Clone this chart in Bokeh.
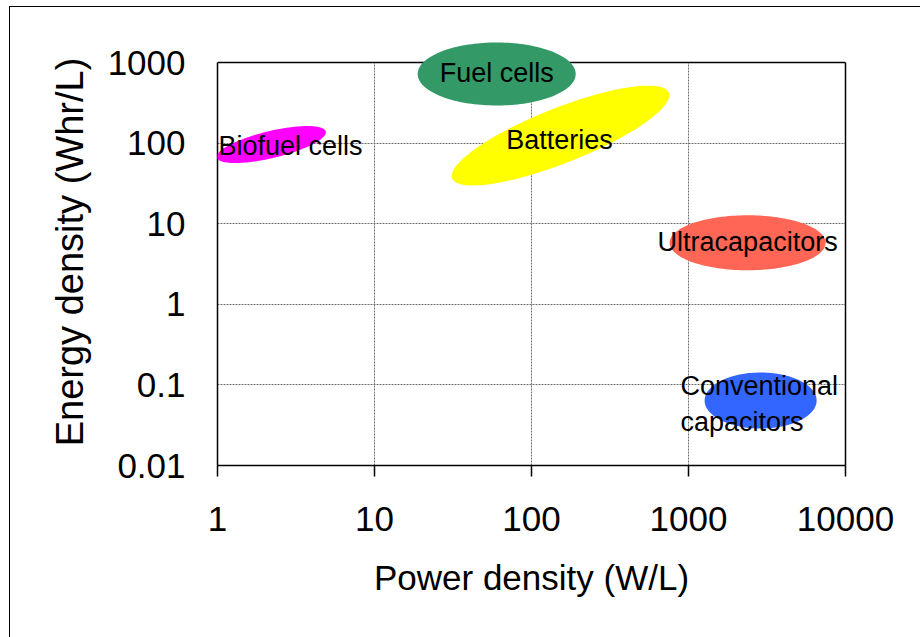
import numpy as np
from bokeh.plotting import figure
from bokeh.models import (Range1d, FixedTicker, PolyAnnotation, ColumnDataSource,
                          InlineStyleSheet, Span, LogAxis, Grid)
from bokeh.embed import file_html
from bokeh.resources import INLINE
from bokeh.core.properties import value

# ---------------- data ----------------
TECHNOLOGIES = ["Biofuel cells", "Fuel cells", "Batteries", "Ultracapacitors", "Conventional capacitors"]
POWER_CENTER = [2.2, 60, 153, 2380, 2880]        # W/L, centre of each region
ENERGY_CENTER = [96, 720, 124, 5.8, 0.064]       # Whr/L, centre of each region
COLORS = ["#FF00FF", "#339966", "#FFFF00", "#FF6655", "#3366FF"]

LABEL_TEXT = ["Biofuel cells", "Fuel cells", "Batteries", "Ultracapacitors", "Conventional\ncapacitors"]
LABEL_POWER = [2.92, 60, 151, 2380, 889]
LABEL_ENERGY = [92, 741, 109, 5.93, 0.058]
LABEL_ALIGN = ["center", "center", "center", "center", "left"]

X_TICKS = [1, 10, 100, 1000, 10000]
X_TICK_LABELS = ["1", "10", "100", "1000", "10000"]
Y_TICKS = [0.01, 0.1, 1, 10, 100, 1000]
Y_TICK_LABELS = ["0.01", "0.1", "1", "10", "100", "1000"]

# ---------------- styling / layout ----------------
ELLIPSE_W = [112, 158, 233, 156, 112]     # px, major axis
ELLIPSE_H = [27, 63, 55, 55, 56]          # px, minor axis
ELLIPSE_ANGLE = [13.4, 0, 21.6, 0, 0]     # degrees

W, H = 920, 637
BL, BR, BT, BB = 217, 75, 62, 172
EXTRA_TOP = 24                            # room above the box so the fuel-cell ellipse can overhang it
FRAME_W = W - BL - BR
FRAME_H = H - BT - BB
PX_X = FRAME_W / np.log10(X_TICKS[-1] / X_TICKS[0])
PX_Y = FRAME_H / np.log10(Y_TICKS[-1] / Y_TICKS[0])
Y_END = Y_TICKS[-1] * 10 ** (EXTRA_TOP / PX_Y)
FONT = "Liberation Sans"

p = figure(width=W, height=H, x_axis_type="log", y_axis_type="log",
           x_range=Range1d(X_TICKS[0], X_TICKS[-1]),
           y_range=Range1d(Y_TICKS[0], Y_END),
           output_backend="svg", toolbar_location=None,
           min_border_left=BL, min_border_right=BR,
           min_border_top=BT - EXTRA_TOP, min_border_bottom=BB)
p.background_fill_color = "white"
p.border_fill_color = "white"
p.outline_line_color = None

for ax in (p.xaxis[0], p.yaxis[0]):
    ax.axis_line_color = "black"
    ax.axis_line_width = 1.5
    ax.major_tick_line_color = "black"
    ax.major_tick_line_width = 1.5
    ax.minor_tick_in = 0
    ax.minor_tick_out = 0
    ax.major_tick_in = 0
    ax.major_label_text_font = FONT
    ax.major_label_text_font_size = "35px"
    ax.major_label_text_color = "black"
    ax.axis_label_text_font = FONT
    ax.axis_label_text_font_style = "normal"
    ax.axis_label_text_color = "black"

p.xaxis.ticker = FixedTicker(ticks=X_TICKS, minor_ticks=[])
p.yaxis.ticker = FixedTicker(ticks=Y_TICKS, minor_ticks=[])
p.xaxis.bounds = (X_TICKS[0], X_TICKS[-1])
p.yaxis.bounds = (Y_TICKS[0], Y_TICKS[-1])
p.xaxis.major_label_overrides = dict(zip(X_TICKS, X_TICK_LABELS))
p.yaxis.major_label_overrides = dict(zip(Y_TICKS, Y_TICK_LABELS))
p.xaxis.major_tick_out = 11
p.yaxis.major_tick_out = 0
p.xaxis.major_label_standoff = 30
p.yaxis.major_label_standoff = 32
p.xaxis.axis_label = "Power density (W/L)"
p.yaxis.axis_label = "Energy density (Whr/L)"
p.xaxis.axis_label_text_font_size = "35px"
p.yaxis.axis_label_text_font_size = "38px"
p.xaxis.axis_label_standoff = 24
p.yaxis.axis_label_standoff = 14

# right edge of the box: a bare axis limited to the data box
right = LogAxis(ticker=FixedTicker(ticks=[], minor_ticks=[]), bounds=(Y_TICKS[0], Y_TICKS[-1]),
                axis_line_color="black", axis_line_width=1.5,
                major_tick_in=0, major_tick_out=0, minor_tick_in=0, minor_tick_out=0,
                major_label_text_color=None, major_label_standoff=0)
p.add_layout(right, "right")

# grid
p.xgrid.ticker = FixedTicker(ticks=X_TICKS, minor_ticks=[])
p.ygrid.ticker = FixedTicker(ticks=Y_TICKS, minor_ticks=[])
for g in (p.xgrid[0], p.ygrid[0]):
    g.grid_line_color = "#707070"
    g.grid_line_dash = "2 1"
    g.grid_line_width = 1
if "cross_bounds" in Grid.properties():
    p.xgrid.cross_bounds = (Y_TICKS[0], Y_TICKS[-1])
    p.ygrid.cross_bounds = (X_TICKS[0], X_TICKS[-1])
else:
    p.xgrid.visible = False
    p.segment(x0=X_TICKS[1:-1], x1=X_TICKS[1:-1], y0=Y_TICKS[0], y1=Y_TICKS[-1],
              line_color="#707070", line_dash="2 1", line_width=1, level="underlay")

# top edge of the box
p.add_layout(Span(location=Y_TICKS[-1], dimension="width", line_color="black", line_width=1.5))


def ellipse_poly(cx, cy, w, h, ang):
    t = np.linspace(0, 2 * np.pi, 160)
    th = np.radians(ang)
    dx = w / 2 * np.cos(t) * np.cos(th) - h / 2 * np.sin(t) * np.sin(th)
    dy = w / 2 * np.cos(t) * np.sin(th) + h / 2 * np.sin(t) * np.cos(th)
    xs = 10 ** (np.log10(cx) + dx / PX_X)
    ys = 10 ** (np.log10(cy) + dy / PX_Y)
    return xs.tolist(), ys.tolist()


for cx, cy, w, h, a, c in zip(POWER_CENTER, ENERGY_CENTER, ELLIPSE_W, ELLIPSE_H, ELLIPSE_ANGLE, COLORS):
    xs, ys = ellipse_poly(cx, cy, w, h, a)
    p.add_layout(PolyAnnotation(xs=xs, ys=ys, fill_color=c, fill_alpha=1.0, line_color=None))

src = ColumnDataSource(dict(x=LABEL_POWER, y=LABEL_ENERGY, text=LABEL_TEXT, align=LABEL_ALIGN))
p.text(x="x", y="y", text="text", source=src, text_align="align", text_baseline="middle",
       text_font=value(FONT), text_font_size="27px", text_color="black",
       text_line_height=1.2, level="overlay")

css = (":host{position:relative;} "
       ":host::after{content:''; position:absolute; left:9px; top:6px; width:911px; height:631px; "
       "border-left:1.5px solid #000; border-top:1.5px solid #000; box-sizing:border-box; "
       "pointer-events:none; z-index:10;}")
p.stylesheets = [InlineStyleSheet(css=css)]

open("out.html", "w").write(file_html(p, INLINE))
